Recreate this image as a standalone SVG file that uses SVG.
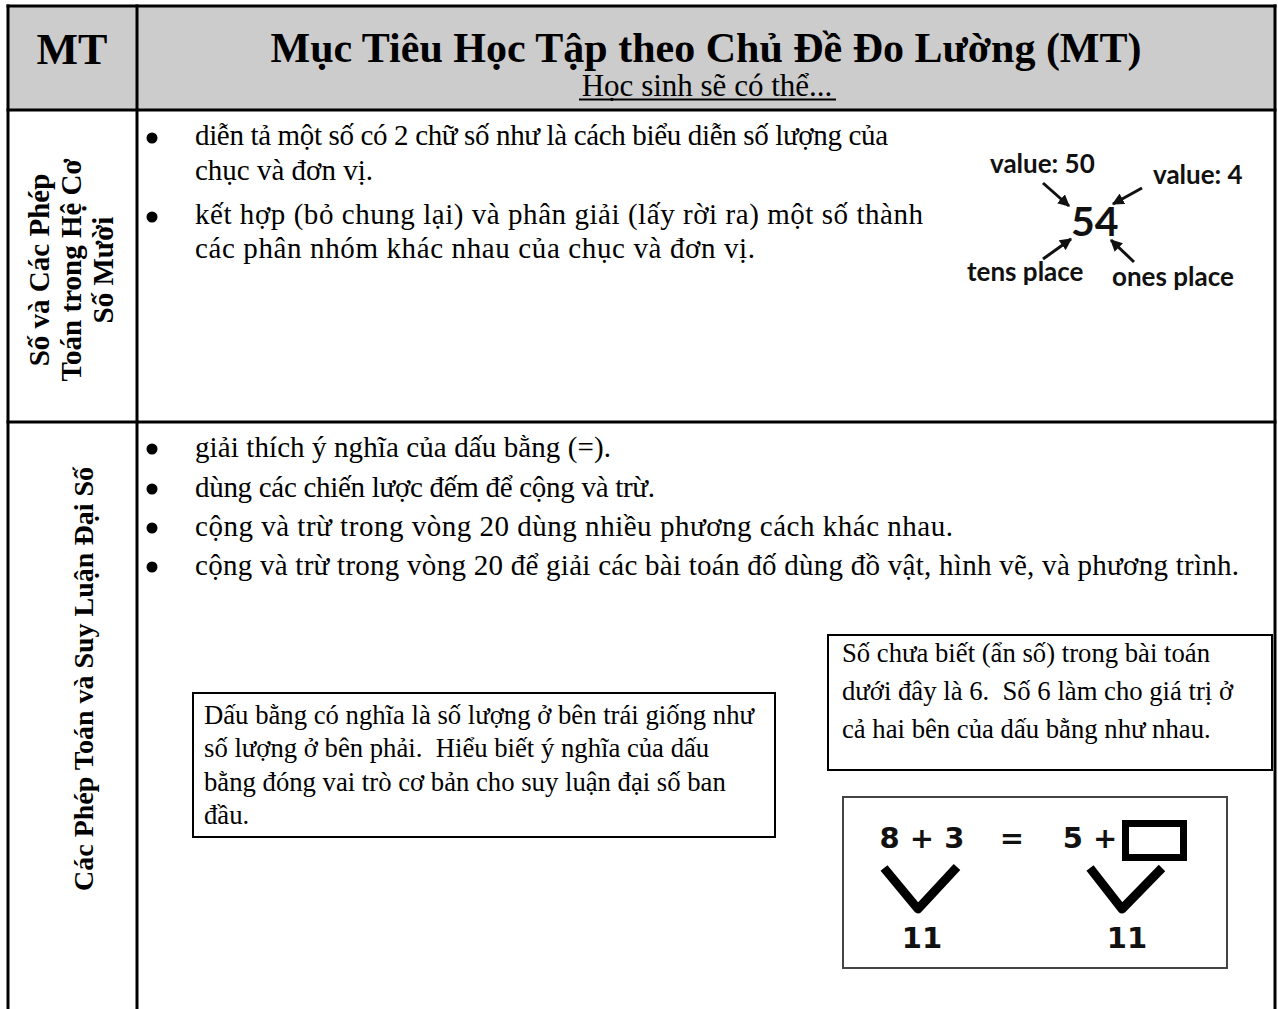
<svg xmlns="http://www.w3.org/2000/svg" width="1278" height="1009" viewBox="0 0 1278 1009">
<style>
.serif{font-family:"Liberation Serif","Times New Roman",serif;fill:#000}
.b{font-weight:bold}
.body{font-size:29px}
.box{font-size:26.7px}
.lbl{font-size:28px;font-weight:bold;text-anchor:middle}
.lbl1{font-size:29px;font-weight:bold;text-anchor:middle}
.sans{font-family:Lato,"Open Sans",sans-serif;font-weight:bold;fill:#111}
.eq{font-family:"DejaVu Sans",Verdana,sans-serif;font-weight:bold;fill:#111}
.grid{stroke:#000;stroke-width:3;fill:none}
.frame{stroke:#000;stroke-width:2;fill:#fff}
.arr{stroke:#111;stroke-width:3;fill:none;marker-end:url(#ah)}
.vee{stroke:#000;stroke-width:9;fill:none;stroke-linejoin:round}
</style>
<defs>
<marker id="ah" viewBox="0 0 10 10" refX="9" refY="5" markerWidth="4" markerHeight="4" orient="auto">
<path d="M0,0 L10,5 L0,10 z" fill="#111"/>
</marker>
</defs>
<rect width="1278" height="1009" fill="#fff"/>

<g id="header">
<rect x="8" y="6" width="1267" height="104" fill="#cccccc"/>
<text class="serif b" x="72" y="64" font-size="44" text-anchor="middle">MT</text>
<text class="serif b" x="706" y="62" font-size="42" text-anchor="middle">Mục Tiêu Học Tập theo Chủ Đề Đo Lường (MT)</text>
<text class="serif" x="707" y="96" font-size="31" text-anchor="middle">Học sinh sẽ có thể...</text>
<line x1="579" y1="99.5" x2="836" y2="99.5" stroke="#000" stroke-width="2"/>
</g>

<g id="table-grid">
<line class="grid" x1="6.5" y1="6" x2="1276.5" y2="6"/>
<line class="grid" x1="8" y1="4.5" x2="8" y2="1009"/>
<line class="grid" x1="1275" y1="4.5" x2="1275" y2="1009"/>
<line class="grid" x1="137" y1="4.5" x2="137" y2="1009"/>
<line class="grid" x1="6.5" y1="110" x2="1276.5" y2="110"/>
<line class="grid" x1="6.5" y1="422" x2="1276.5" y2="422"/>
</g>

<g id="row1-label">
<text class="serif lbl1" transform="translate(49,270) rotate(-90)">Số và Các Phép</text>
<text class="serif lbl1" transform="translate(81,270) rotate(-90)">Toán trong Hệ Cơ</text>
<text class="serif lbl1" transform="translate(113,270) rotate(-90)">Số Mười</text>
</g>

<g id="row1-content">
<circle cx="152" cy="138" r="5.5"/>
<circle cx="152" cy="217" r="5.5"/>
<text class="serif body" x="195" y="145" textLength="693">diễn tả một số có 2 chữ số như là cách biểu diễn số lượng của</text>
<text class="serif body" x="195" y="180">chục và đơn vị.</text>
<text class="serif body" x="195" y="224" textLength="728">kết hợp (bỏ chung lại) và phân giải (lấy rời ra) một số thành</text>
<text class="serif body" x="195" y="258" textLength="560">các phân nhóm khác nhau của chục và đơn vị.</text>
</g>

<g id="place-value-figure">
<text class="sans" x="990" y="173" font-size="26">value: 50</text>
<text class="sans" x="1153" y="184" font-size="26">value: 4</text>
<text class="sans" x="1071" y="236" font-size="41">54</text>
<text class="sans" x="967" y="281" font-size="26">tens place</text>
<text class="sans" x="1112" y="286" font-size="26">ones place</text>
</g>

<g id="row2-label">
<text class="serif lbl" transform="translate(93,679) rotate(-90)">Các Phép Toán và Suy Luận Đại Số</text>
</g>

<g id="row2-content">
<circle cx="152" cy="449" r="5.5"/>
<circle cx="152" cy="489" r="5.5"/>
<circle cx="152" cy="528" r="5.5"/>
<circle cx="152" cy="567" r="5.5"/>
<text class="serif body" x="195" y="457" textLength="416">giải thích ý nghĩa của dấu bằng (=).</text>
<text class="serif body" x="195" y="497" textLength="460">dùng các chiến lược đếm để cộng và trừ.</text>
<text class="serif body" x="195" y="536" textLength="758">cộng và trừ trong vòng 20 dùng nhiều phương cách khác nhau.</text>
<text class="serif body" x="195" y="575" textLength="1044">cộng và trừ trong vòng 20 để giải các bài toán đố dùng đồ vật, hình vẽ, và phương trình.</text>
</g>

<g id="box-equal-sign">
<rect class="frame" x="193" y="693" width="582" height="144"/>
<text class="serif box" x="204" y="724">Dấu bằng có nghĩa là số lượng ở bên trái giống như</text>
<text class="serif box" x="204" y="757">số lượng ở bên phải.&#160; Hiểu biết ý nghĩa của dấu</text>
<text class="serif box" x="204" y="791">bằng đóng vai trò cơ bản cho suy luận đại số ban</text>
<text class="serif box" x="204" y="824">đầu.</text>
</g>

<g id="box-unknown">
<rect class="frame" x="828" y="635" width="444" height="135"/>
<text class="serif box" x="842" y="662">Số chưa biết (ẩn số) trong bài toán</text>
<text class="serif box" x="842" y="700">dưới đây là 6.&#160; Số 6 làm cho giá trị ở</text>
<text class="serif box" x="842" y="738">cả hai bên của dấu bằng như nhau.</text>
</g>

<g id="equation-figure">
<rect x="843" y="797" width="384" height="171" fill="#fff" stroke="#444" stroke-width="2"/>
<text class="eq" x="922" y="848" font-size="29" text-anchor="middle">8 + 3</text>
<text class="eq" x="1012" y="848" font-size="29" text-anchor="middle">=</text>
<text class="eq" x="1090" y="848" font-size="29" text-anchor="middle">5 +</text>
<rect x="1125.5" y="823.5" width="58" height="34" fill="none" stroke="#000" stroke-width="7"/>
<text class="eq" x="922" y="948" font-size="29" text-anchor="middle">11</text>
<text class="eq" x="1127" y="948" font-size="29" text-anchor="middle">11</text>
</g>

<g id="connectors">
<line class="arr" x1="1043" y1="183" x2="1069" y2="206"/>
<line class="arr" x1="1142" y1="188" x2="1113" y2="204"/>
<line class="arr" x1="1043" y1="259" x2="1071" y2="239"/>
<line class="arr" x1="1134" y1="262" x2="1111" y2="240"/>
<polyline class="vee" points="884,868 918,909 957,867"/>
<polyline class="vee" points="1090,868 1122,909 1162,868"/>
</g>
</svg>
